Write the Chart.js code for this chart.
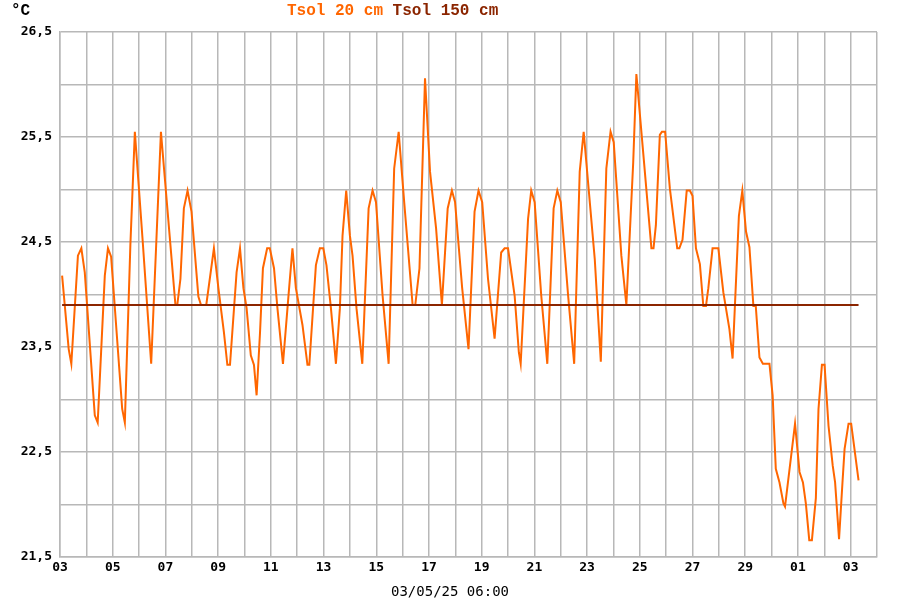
<!DOCTYPE html>
<html lang="fr">
<head>
<meta charset="UTF-8">
<title>Tsol</title>
<script src="https://cdn.jsdelivr.net/npm/chart.js"></script>
<style>
  html, body { margin: 0; padding: 0; background: #fff; }
  #wrap { width: 900px; height: 600px; position: relative; }
</style>
</head>
<body>
<div id="wrap"><canvas id="chart" width="900" height="600"></canvas></div>
<script>
// time in days since 03/04 00:00
const times20 = [0.08, 0.33, 0.43, 0.68, 0.81, 0.94, 1.32, 1.43, 1.70, 1.82, 1.94, 2.36, 2.46, 2.67, 2.84, 3.14, 3.46, 3.83, 4.19, 4.38,
  4.45, 4.57, 4.70, 4.84, 4.99, 5.25, 5.35, 5.55, 5.84, 6.01, 6.22, 6.35, 6.45, 6.70, 6.83, 6.96, 7.08, 7.24, 7.36, 7.46,
  7.59, 7.70, 7.86, 7.96, 8.12, 8.25, 8.46, 8.67, 8.82, 8.95, 9.20, 9.39, 9.46, 9.71, 9.86, 9.99, 10.11, 10.28, 10.47, 10.62,
  10.72, 10.86, 11.00, 11.10, 11.25, 11.47, 11.71, 11.86, 11.99, 12.24, 12.47, 12.68, 12.85, 13.06, 13.38, 13.48, 13.64, 13.85, 14.04, 14.27,
  14.49, 14.71, 14.87, 14.99, 15.26, 15.50, 15.73, 15.88, 16.02, 16.24, 16.49, 16.74, 16.87, 17.00, 17.25, 17.41, 17.48, 17.76, 17.88, 18.01,
  18.26, 18.49, 18.73, 18.87, 19.00, 19.28, 19.51, 19.72, 19.87, 20.29, 20.52, 20.73, 20.89, 21.01, 21.30, 21.49, 21.75, 21.87, 22.15, 22.44,
  22.52, 22.61, 22.76, 22.84, 22.96, 23.14, 23.42, 23.50, 23.62, 23.78, 23.90, 24.00, 24.13, 24.28, 24.41, 24.51, 24.60, 24.76, 24.98, 25.17,
  25.40, 25.52, 25.61, 25.76, 25.89, 26.03, 26.16, 26.31, 26.40, 26.54, 26.67, 26.92, 27.04, 27.16, 27.30, 27.45, 27.51, 27.89, 28.06, 28.19,
  28.30, 28.43, 28.53, 28.68, 28.78, 28.91, 29.01, 29.16, 29.32, 29.41, 29.56, 29.69, 29.77, 29.92, 30.02, 30.30];
const tsol20 = [24.18, 23.48, 23.34, 24.37, 24.44, 24.21, 22.85, 22.78, 24.18, 24.44, 24.36, 22.91, 22.78, 24.47, 25.55, 24.50, 23.34, 25.55, 24.47, 23.90,
  23.90, 24.15, 24.82, 24.99, 24.79, 23.98, 23.90, 23.90, 24.44, 24.06, 23.64, 23.33, 23.33, 24.21, 24.44, 24.06, 23.87, 23.42, 23.33, 23.04,
  23.64, 24.25, 24.44, 24.44, 24.25, 23.87, 23.34, 23.99, 24.44, 24.06, 23.71, 23.33, 23.33, 24.28, 24.44, 24.44, 24.28, 23.87, 23.34, 23.87,
  24.56, 24.99, 24.56, 24.37, 23.87, 23.34, 24.82, 24.99, 24.88, 23.99, 23.34, 25.20, 25.55, 24.88, 23.90, 23.90, 24.25, 26.06, 25.17, 24.63,
  23.90, 24.82, 24.99, 24.88, 24.06, 23.48, 24.79, 24.99, 24.88, 24.15, 23.58, 24.40, 24.44, 24.44, 23.99, 23.45, 23.34, 24.72, 24.99, 24.88,
  23.99, 23.34, 24.82, 24.99, 24.88, 23.99, 23.34, 25.17, 25.55, 24.34, 23.36, 25.20, 25.55, 25.45, 24.37, 23.90, 25.26, 26.10, 25.29, 24.44,
  24.44, 24.66, 25.52, 25.55, 25.55, 25.01, 24.44, 24.44, 24.52, 24.99, 24.99, 24.94, 24.44, 24.29, 23.89, 23.89, 24.06, 24.44, 24.44, 24.02,
  23.67, 23.39, 23.90, 24.75, 24.99, 24.60, 24.45, 23.89, 23.89, 23.40, 23.34, 23.34, 23.04, 22.34, 22.21, 22.01, 21.98, 22.77, 22.31, 22.21,
  22.01, 21.66, 21.66, 22.06, 22.91, 23.33, 23.33, 22.75, 22.37, 22.21, 21.67, 22.21, 22.53, 22.77, 22.77, 22.23];
const times150 = [0.08, 30.30];
const tsol150 = [23.9, 23.9];
const xLabels = ['03', '05', '07', '09', '11', '13', '15', '17', '19', '21', '23', '25', '27', '29', '01', '03'];
const dateLabel = '03/05/25 06:00';

const toXY = (t, v) => t.map((x, i) => ({ x: x, y: v[i] }));

const headerPlugin = {
  id: 'header',
  afterDraw(chart) {
    const ctx = chart.ctx;
    ctx.save();
    ctx.font = 'bold 16px "Liberation Mono"';
    ctx.textBaseline = 'middle';
    ctx.textAlign = 'left';
    ctx.fillStyle = '#000';
    ctx.fillText('°C', 11, 11);
    ctx.fillStyle = '#ff6600';
    ctx.fillText('Tsol 20 cm', 287, 11);
    const w = ctx.measureText('Tsol 20 cm ').width;
    ctx.fillStyle = '#8b2500';
    ctx.fillText('Tsol 150 cm', 287 + w, 11);
    ctx.font = '14px "DejaVu Sans Mono"';
    ctx.fillStyle = '#000';
    ctx.textAlign = 'center';
    ctx.fillText(dateLabel, 450, 592);
    ctx.restore();
  }
};

new Chart(document.getElementById('chart'), {
  type: 'line',
  data: {
    datasets: [
      {
        label: 'Tsol 20 cm',
        data: toXY(times20, tsol20),
        borderColor: '#ff6600',
        borderWidth: 2,
        pointRadius: 0,
        tension: 0,
        order: 1
      },
      {
        label: 'Tsol 150 cm',
        data: toXY(times150, tsol150),
        borderColor: '#8b2500',
        borderWidth: 2,
        pointRadius: 0,
        tension: 0,
        order: 0
      }
    ]
  },
  options: {
    responsive: false,
    animation: false,
    layout: { padding: { top: 32, right: 23, left: 0, bottom: 0 } },
    plugins: { legend: { display: false }, tooltip: { enabled: false } },
    scales: {
      x: {
        type: 'linear',
        min: 0,
        max: 31,
        afterFit: s => { s.height = 43; },
        grid: { color: '#b8b8b8', lineWidth: 1.5, drawTicks: false },
        border: { color: '#b8b8b8', width: 1.5 },
        ticks: {
          stepSize: 1,
          autoSkip: false,
          maxRotation: 0,
          padding: 3,
          color: '#000',
          font: { family: 'DejaVu Sans Mono', size: 13, weight: 'bold' },
          callback: v => (v % 2 === 0 && v / 2 < xLabels.length) ? xLabels[v / 2] : ''
        }
      },
      y: {
        min: 21.5,
        max: 26.5,
        afterFit: s => { s.width = 60; },
        grid: { color: '#b8b8b8', lineWidth: 1.5, drawTicks: false },
        border: { color: '#b8b8b8', width: 1.5 },
        ticks: {
          stepSize: 0.5,
          autoSkip: false,
          padding: 8,
          color: '#000',
          font: { family: 'DejaVu Sans Mono', size: 13, weight: 'bold' },
          callback: v => (Math.round((v - 21.5) * 2) % 2 === 0) ? v.toFixed(1).replace('.', ',') : ''
        }
      }
    }
  },
  plugins: [headerPlugin]
});
</script>
</body>
</html>
